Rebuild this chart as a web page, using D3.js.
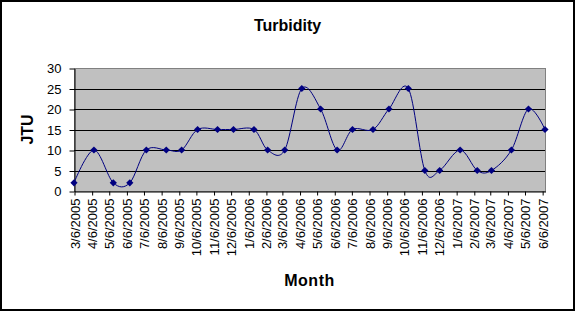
<!DOCTYPE html>
<html>
<head>
<meta charset="utf-8">
<script src="https://cdn.jsdelivr.net/npm/d3@7"></script>
<style>
  body { margin: 0; background: #fff; }
  svg { display: block; font-family: Arial, "Liberation Sans", sans-serif; }
</style>
</head>
<body>
<svg id="chart"></svg>
<script>
const sampleDates = ["3/6/2005", "4/10/2005", "5/14/2005", "6/12/2005", "7/11/2005", "8/15/2005", "9/11/2005",
  "10/9/2005", "11/13/2005", "12/11/2005", "1/16/2006", "2/9/2006", "3/11/2006", "4/10/2006", "5/13/2006",
  "6/11/2006", "7/8/2006", "8/13/2006", "9/10/2006", "10/14/2006", "11/12/2006", "12/8/2006", "1/13/2007",
  "2/12/2007", "3/9/2007", "4/13/2007", "5/13/2007", "6/11/2007"];
const jtuValues = [2, 10, 2, 2, 10, 10, 10, 15, 15, 15, 15, 10, 10, 25, 20, 10, 15, 15, 20, 25, 5, 5, 10, 5, 5, 10, 20, 15];
const tickLabels = ["3/6/2005", "4/6/2005", "5/6/2005", "6/6/2005", "7/6/2005", "8/6/2005", "9/6/2005",
  "10/6/2005", "11/6/2005", "12/6/2005", "1/6/2006", "2/6/2006", "3/6/2006", "4/6/2006", "5/6/2006",
  "6/6/2006", "7/6/2006", "8/6/2006", "9/6/2006", "10/6/2006", "11/6/2006", "12/6/2006", "1/6/2007",
  "2/6/2007", "3/6/2007", "4/6/2007", "5/6/2007", "6/6/2007"];
const yTicks = [0, 5, 10, 15, 20, 25, 30];

const width = 575, height = 311;
const margin = { top: 68, right: 30, bottom: 120, left: 74 };

const parseDate = d3.timeParse("%m/%d/%Y");
const formatDate = d3.timeFormat("%-m/%-d/%Y");
const data = sampleDates.map((d, i) => ({ date: parseDate(d), value: jtuValues[i] }));
const tickDates = tickLabels.map(parseDate);

const svg = d3.select("#chart")
  .attr("width", width)
  .attr("height", height);

// chart area border
svg.append("rect")
  .attr("x", 1).attr("y", 1)
  .attr("width", width - 2).attr("height", height - 2)
  .attr("fill", "#fff")
  .attr("stroke", "#000")
  .attr("stroke-width", 2);

const xScale = d3.scaleTime()
  .domain(d3.extent(data, d => d.date))
  .range([margin.left, width - margin.right]);

const yScale = d3.scaleLinear()
  .domain([0, 30])
  .range([height - margin.bottom, margin.top]);

// plot area
svg.append("rect")
  .attr("x", margin.left + 0.5)
  .attr("y", margin.top + 0.5)
  .attr("width", width - margin.right - margin.left)
  .attr("height", height - margin.bottom - margin.top)
  .attr("fill", "#c0c0c0")
  .attr("stroke", "#808080");

svg.append("g")
  .selectAll("line")
  .data(yTicks.filter(t => t > 0 && t < 30))
  .join("line")
  .attr("x1", margin.left)
  .attr("x2", width - margin.right)
  .attr("y1", d => Math.round(yScale(d)) + 0.5)
  .attr("y2", d => Math.round(yScale(d)) + 0.5)
  .attr("stroke", "#000");

const xAxis = d3.axisBottom(xScale)
  .tickValues(tickDates)
  .tickFormat(formatDate)
  .tickSize(4)
  .tickSizeOuter(0);

const yAxis = d3.axisLeft(yScale)
  .tickValues(yTicks)
  .tickSize(5)
  .tickPadding(8)
  .tickSizeOuter(0);

const xAxisGroup = svg.append("g")
  .attr("transform", `translate(0.5,${height - margin.bottom + 0.5})`)
  .call(xAxis);

xAxisGroup.selectAll("text")
  .attr("transform", "rotate(-90)")
  .attr("x", -7)
  .attr("y", 0)
  .attr("dy", "0.35em")
  .style("text-anchor", "end");

const yAxisGroup = svg.append("g")
  .attr("transform", `translate(${margin.left + 0.5},0.5)`)
  .call(yAxis);

svg.selectAll(".domain, .tick line").attr("stroke", "#000");
svg.selectAll(".tick text")
  .attr("fill", "#000")
  .style("font-size", "13px");

// smoothed series line
svg.append("path")
  .datum(data)
  .attr("fill", "none")
  .attr("stroke", "#000080")
  .attr("stroke-width", 1)
  .attr("d", d3.line()
    .x(d => xScale(d.date))
    .y(d => yScale(d.value))
    .curve(d3.curveCardinal.tension(0)));

svg.append("g")
  .selectAll("path")
  .data(data)
  .join("path")
  .attr("transform", d => `translate(${xScale(d.date)},${yScale(d.value)}) rotate(45)`)
  .attr("d", d3.symbol(d3.symbolSquare, 26))
  .attr("fill", "#000080");

// titles
svg.append("text")
  .attr("x", width / 2)
  .attr("y", 31)
  .attr("text-anchor", "middle")
  .style("font-size", "16px")
  .style("font-weight", "bold")
  .text("Turbidity");

svg.append("text")
  .attr("x", (margin.left + width - margin.right) / 2)
  .attr("y", 286)
  .attr("text-anchor", "middle")
  .style("font-size", "16px")
  .style("font-weight", "bold")
  .style("letter-spacing", "0.5px")
  .text("Month");

svg.append("text")
  .attr("transform", `translate(33,${(margin.top + height - margin.bottom) / 2}) rotate(-90)`)
  .attr("text-anchor", "middle")
  .style("font-size", "16px")
  .style("font-weight", "bold")
  .text("JTU");
</script>
</body>
</html>
